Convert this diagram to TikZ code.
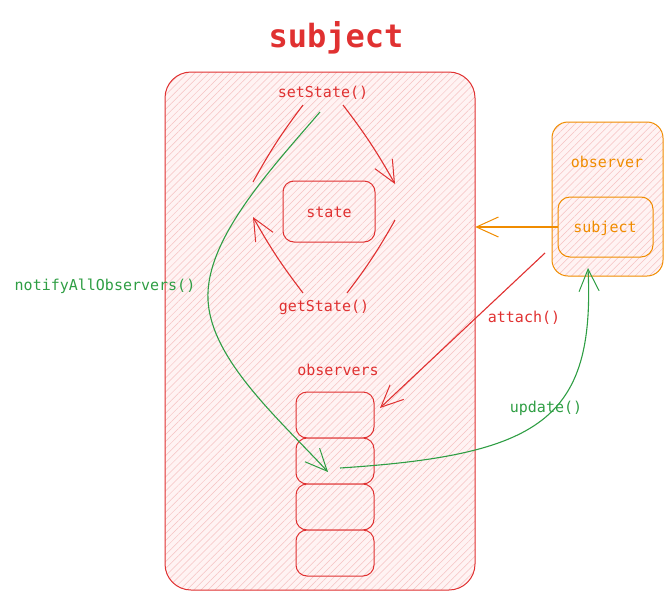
\documentclass[tikz,border=0pt]{standalone}
\usepackage{fontspec}
\setmonofont{DejaVu Sans Mono}
\usetikzlibrary{arrows.meta,patterns.meta}
\definecolor{exred}{HTML}{E03131}
\definecolor{exgreen}{HTML}{2F9E44}
\definecolor{exorange}{HTML}{F08C00}
\definecolor{pinkfill}{HTML}{FFF3F3}
\tikzset{
  hatchred/.style={preaction={fill=pinkfill},pattern={Lines[angle=45,distance=5pt,line width=0.5pt]},pattern color=exred!30},
  bigbox/.style={draw=exred,line width=1pt,hatchred,rounded corners=26pt,minimum width=310pt,minimum height=518pt},
  smallbox/.style={draw=exred,line width=1pt,hatchred,rounded corners=11pt},
  obsbox/.style={smallbox,minimum width=78pt,minimum height=46pt},
  orbox/.style={draw=exorange,line width=1pt,hatchred,rounded corners=16pt},
  lbl/.style={font=\ttfamily\fontsize{15}{17}\selectfont,inner sep=0pt},
  head/.style={-{Straight Barb[length=22pt,width=20pt,line width=1pt]}},
  redline/.style={draw=exred,line width=1.1pt},
  greenline/.style={draw=exgreen,line width=1.1pt},
}
\begin{document}
\begin{tikzpicture}[x=1pt,y=-1pt]
\useasboundingbox (0,0) rectangle (672,600);
% title
\node[font=\ttfamily\bfseries\fontsize{32}{36}\selectfont,text=exred,inner sep=0pt] (title) at (336,38) {subject};
% big subject box
\node[bigbox] (subj) at (320,331) {};
% state
\node[smallbox,minimum width=92pt,minimum height=61pt] (state) at (329,211.5) {};
\node[lbl,text=exred] (statel) at (329,212) {state};
\node[lbl,text=exred] (set) at (323,93) {setState()};
\node[lbl,text=exred] (get) at (324,307) {getState()};
% observers list
\node[lbl,text=exred] (obsl) at (338,370) {observers};
\node[obsbox] (o1) at (335,415) {};
\node[obsbox] (o2) at (335,461) {};
\node[obsbox] (o3) at (335,507) {};
\node[obsbox] (o4) at (335,553) {};
% observer box
\node[orbox,minimum width=111pt,minimum height=154pt] (observer) at (607.5,199) {};
\node[lbl,text=exorange] (observerl) at (607,162) {observer};
\node[orbox,rounded corners=12pt,minimum width=95pt,minimum height=60pt] (inner) at (605.5,227) {};
\node[lbl,text=exorange] (innerl) at (605,228) {subject};
% labels
\node[lbl,text=exgreen] (notify) at (105,286) {notifyAllObservers()};
\node[lbl,text=exred] (attachl) at (524,318) {attach()};
\node[lbl,text=exgreen] (updatel) at (546,408) {update()};
% coordinates for connector ends
\coordinate (sL1) at (303,105); \coordinate (sL2) at (253,182);
\coordinate (sR1) at (343,105); \coordinate (sR2) at (395,184);
\coordinate (gL1) at (303,293); \coordinate (gL2) at (253,217);
\coordinate (gR1) at (347,293); \coordinate (gR2) at (395,220);
\coordinate (nS) at (320,112); \coordinate (nM) at (208,300); \coordinate (nE) at (328,472);
\coordinate (uS) at (340,468); \coordinate (uE) at (588,268);
\coordinate (aS) at (545,253); \coordinate (aE) at (380,408);
\coordinate (orS) at (inner.west); \coordinate (orE) at (subj.east |- inner.west);
% red set/get arrows
\draw[redline] (sL1) to[bend right=4] (sL2);
\draw[redline,head] (sR1) to[bend left=4] (sR2);
\draw[redline,head] (gL1) to[bend left=4] (gL2);
\draw[redline] (gR2) to[bend left=4] (gR1);
% notify
\draw[greenline,head] (nS) .. controls (270,170) and (205,240) .. (nM) .. controls (211,360) and (280,420) .. (nE);
% update
\draw[greenline,head] (uS) .. controls (540,455) and (595,420) .. (uE);
% attach
\draw[redline,head] (aS) -- (aE);
% orange
\draw[draw=exorange,line width=1.1pt,head] (orS) -- (orE);
\end{tikzpicture}
\end{document}
